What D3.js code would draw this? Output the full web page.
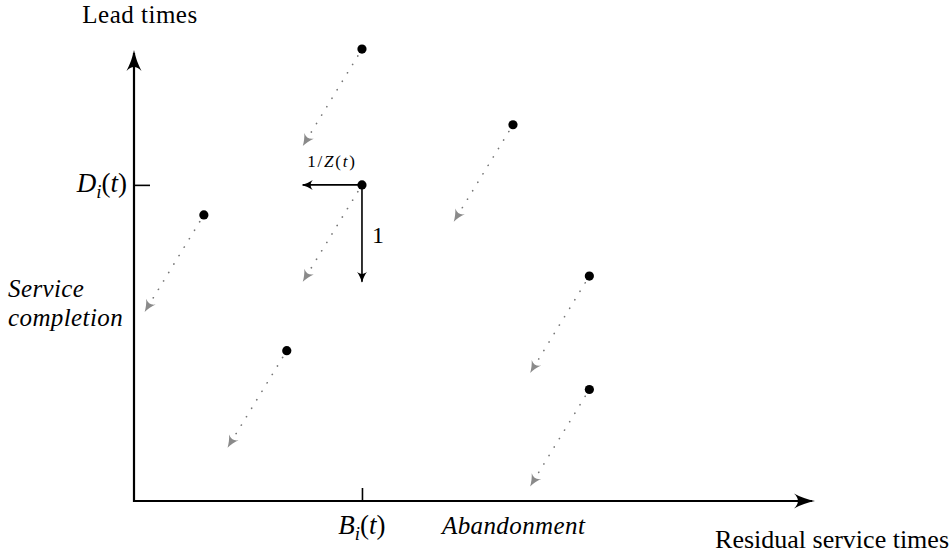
<!DOCTYPE html>
<html>
<head>
<meta charset="utf-8">
<script src="https://cdn.jsdelivr.net/npm/d3@7"></script>
<style>
  body { margin: 0; background: #fff; }
  svg text { font-family: 'Liberation Serif', 'Times New Roman', serif !important; fill: #000; }
</style>
</head>
<body>
<div id="chart"></div>
<script>
// job positions (residual service time, lead time), in model units
var jobX = [3.85, 6.40, 3.85, 1.18, 7.69, 2.58, 7.69];
var jobY = [4.66, 3.88, 3.26, 2.95, 2.32, 1.55, 1.15];
// the job that gets the labelled ticks
var focusJob = 2;
// one time step: 1/Z(t) along x, 1 along y
var stepX = [1];
var stepY = [1];
var axisMax = [11.45, 4.62];

var width = 952, height = 559;

var svg = d3.select('#chart').append('svg')
    .attr('width', width).attr('height', height)
    .attr('font-family', "'Liberation Serif', serif");

var x = d3.scaleLinear().domain([0, axisMax[0]]).range([134, 812]);
var y = d3.scaleLinear().domain([0, axisMax[1]]).range([501, 53]);

var defs = svg.append('defs');

// arrow heads, tip at 0, pointing to +x
function head(id, len, half, colour, ref) {
    defs.append('marker')
        .attr('id', id)
        .attr('markerUnits', 'userSpaceOnUse')
        .attr('viewBox', (-len - 1) + ' ' + (-half - 1) + ' ' + (len + 2) + ' ' + (2 * half + 2))
        .attr('markerWidth', len + 2)
        .attr('markerHeight', 2 * half + 2)
        .attr('refX', ref)
        .attr('refY', 0)
        .attr('orient', 'auto')
        .append('path')
        .attr('d', 'M0,0 C' + (-len * 0.35) + ',' + (-half * 0.2) + ' ' + (-len * 0.7) + ',' + (-half * 0.55) + ' ' + (-len) + ',' + (-half) +
            ' C' + (-len * 0.75) + ',' + (-half * 0.35) + ' ' + (-len * 0.75) + ',' + (half * 0.35) + ' ' + (-len) + ',' + half +
            ' C' + (-len * 0.7) + ',' + (half * 0.55) + ' ' + (-len * 0.35) + ',' + (half * 0.2) + ' 0,0Z')
        .attr('fill', colour);
}
head('axisHead', 21, 7.5, '#000', -3);
head('stepHead', 11, 5, '#000', -1);
head('grayHead', 12, 5.5, '#8a8a8a', 0);

// axes: ticks from d3 axes, lines drawn from the scales
svg.append('g')
    .attr('transform', 'translate(0,' + y(0) + ')')
    .call(d3.axisBottom(x).tickValues([jobX[focusJob]]).tickSizeInner(-13).tickSizeOuter(0).tickFormat(''))
    .call(function(g) {
        g.select('.domain').remove();
        g.selectAll('.tick line').attr('stroke', '#000').attr('stroke-width', 1.6);
    });

svg.append('g')
    .attr('transform', 'translate(' + x(0) + ',0)')
    .call(d3.axisLeft(y).tickValues([jobY[focusJob]]).tickSizeInner(-16).tickSizeOuter(0).tickFormat(''))
    .call(function(g) {
        g.select('.domain').remove();
        g.selectAll('.tick line').attr('stroke', '#000').attr('stroke-width', 1.6);
    });

svg.append('line')
    .attr('x1', x(0) - 1).attr('y1', y(0))
    .attr('x2', x(axisMax[0])).attr('y2', y(0))
    .attr('stroke', '#000').attr('stroke-width', 2.2)
    .attr('marker-end', 'url(#axisHead)');

svg.append('line')
    .attr('x1', x(0)).attr('y1', y(0) + 1)
    .attr('x2', x(0)).attr('y2', y(axisMax[1]))
    .attr('stroke', '#000').attr('stroke-width', 2.2)
    .attr('marker-end', 'url(#axisHead)');

// dotted gray moves of each job over one step
var jobs = jobX.map(function(d, i) { return {x: d, y: jobY[i]}; });

svg.append('g')
    .selectAll('line')
    .data(jobs)
    .enter().append('line')
    .attr('x1', d => x(d.x - stepX[0] * 0.07))
    .attr('y1', d => y(d.y - stepY[0] * 0.07))
    .attr('x2', d => x(d.x - stepX[0]))
    .attr('y2', d => y(d.y - stepY[0]))
    .attr('stroke', '#777')
    .attr('stroke-width', 1.7)
    .attr('stroke-linecap', 'round')
    .attr('stroke-dasharray', '0.1 9.8')
    .attr('marker-end', 'url(#grayHead)');

// step components for the focus job
var f = jobs[focusJob];
svg.append('line')
    .attr('x1', x(f.x)).attr('y1', y(f.y))
    .attr('x2', x(f.x - stepX[0])).attr('y2', y(f.y))
    .attr('stroke', '#000').attr('stroke-width', 1.6)
    .attr('marker-end', 'url(#stepHead)');

svg.append('line')
    .attr('x1', x(f.x)).attr('y1', y(f.y))
    .attr('x2', x(f.x)).attr('y2', y(f.y - stepY[0]))
    .attr('stroke', '#000').attr('stroke-width', 1.6)
    .attr('marker-end', 'url(#stepHead)');

svg.append('g')
    .selectAll('circle')
    .data(jobs)
    .enter().append('circle')
    .attr('cx', d => x(d.x))
    .attr('cy', d => y(d.y))
    .attr('r', 4.6)
    .attr('fill', '#000');

// labels
svg.append('text')
    .attr('x', 140).attr('y', 23)
    .attr('text-anchor', 'middle')
    .attr('font-size', 25)
    .attr('letter-spacing', 0.5)
    .text('Lead times');

svg.append('text')
    .attr('x', 949).attr('y', 548)
    .attr('text-anchor', 'end')
    .attr('font-size', 26)
    .text('Residual service times');

function mathLabel(sel, letter) {
    sel.append('tspan').attr('font-style', 'italic').text(letter);
    sel.append('tspan').attr('font-style', 'italic').attr('font-size', '0.7em').attr('dy', 6).text('i');
    sel.append('tspan').attr('dy', -6).text('(');
    sel.append('tspan').attr('font-style', 'italic').text('t');
    sel.append('tspan').text(')');
}

svg.append('text')
    .attr('x', 127).attr('y', 192)
    .attr('text-anchor', 'end')
    .attr('font-size', 27)
    .call(mathLabel, 'D');

svg.append('text')
    .attr('x', x(f.x)).attr('y', 534)
    .attr('text-anchor', 'middle')
    .attr('font-size', 27)
    .call(mathLabel, 'B');

svg.append('text')
    .attr('x', 442).attr('y', 534)
    .attr('font-size', 25)
    .attr('font-style', 'italic')
    .attr('letter-spacing', 0.4)
    .text('Abandonment');

svg.append('text')
    .attr('x', 8).attr('y', 297)
    .attr('font-size', 25)
    .attr('font-style', 'italic')
    .attr('letter-spacing', 0.4)
    .text('Service');

svg.append('text')
    .attr('x', 8).attr('y', 326)
    .attr('font-size', 25)
    .attr('font-style', 'italic')
    .attr('letter-spacing', 0.4)
    .text('completion');

var zLabel = svg.append('text')
    .attr('x', 332).attr('y', 167)
    .attr('text-anchor', 'middle')
    .attr('font-size', 17)
    .attr('letter-spacing', 1.8);
zLabel.append('tspan').text('1/');
zLabel.append('tspan').attr('font-style', 'italic').text('Z');
zLabel.append('tspan').text('(');
zLabel.append('tspan').attr('font-style', 'italic').text('t');
zLabel.append('tspan').text(')');

svg.append('text')
    .attr('x', 372).attr('y', 243)
    .attr('font-size', 24)
    .text('1');
</script>
</body>
</html>
